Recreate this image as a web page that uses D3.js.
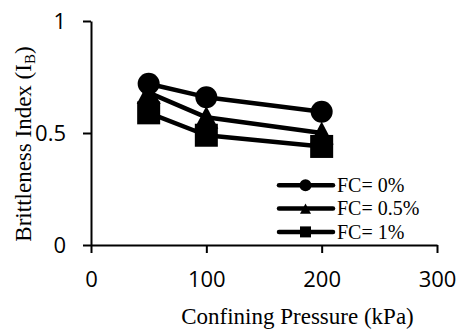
<!DOCTYPE html>
<html>
<head>
<meta charset="utf-8">
<script src="https://cdn.jsdelivr.net/npm/d3@7"></script>
<style>
  html, body { margin: 0; padding: 0; background: #fff; }
  svg { display: block; }
</style>
</head>
<body>
<svg id="chart" width="459" height="329"></svg>
<script>
// Confining pressure (kPa) at which each test was run
const pressures = [50, 100, 200];
// Brittleness index for each fibre content
const seriesNames = ["FC= 0%", "FC= 0.5%", "FC= 1%"];
const seriesMarkers = ["circle", "triangle", "square"];
const fc0 = [0.72, 0.66, 0.595];
const fc05 = [0.68, 0.57, 0.50];
const fc1 = [0.59, 0.49, 0.44];
const seriesValues = [fc0, fc05, fc1];

const xTicks = [0, 100, 200, 300];
const yTicks = [0, 0.5, 1];
const yTickLabels = ["0", "0.5", "1"];

const svg = d3.select("#chart");

const x = d3.scaleLinear().domain([0, 300]).range([91, 437]);
const y = d3.scaleLinear().domain([0, 1]).range([245, 21]);

const sansFont = "'Open Sans', 'Liberation Sans', sans-serif";
const serifFont = "'Liberation Serif', 'Times New Roman', serif";

// X axis
const xAxis = svg.append("g")
  .attr("transform", `translate(0,${y(0)})`)
  .call(d3.axisBottom(x).tickValues(xTicks).tickSize(8).tickPadding(18).tickSizeOuter(0));
// Y axis
const yAxis = svg.append("g")
  .attr("transform", `translate(${x(0)},0)`)
  .call(d3.axisLeft(y).tickValues(yTicks).tickFormat((d, i) => yTickLabels[i])
        .tickSize(8).tickPadding(17).tickSizeOuter(0));

[xAxis, yAxis].forEach(g => {
  g.select(".domain").attr("stroke", "#000").attr("stroke-width", 2);
  g.selectAll(".tick line").attr("stroke", "#000").attr("stroke-width", 2);
  g.selectAll(".tick text")
    .attr("fill", "#000")
    .style("font-family", sansFont)
    .style("font-size", "22px");
});
yAxis.selectAll(".tick text").attr("dy", "0.36em");

// Marker shapes
function drawMarker(g, type, cx, cy, s) {
  if (type === "circle") {
    g.append("circle").attr("cx", cx).attr("cy", cy).attr("r", s / 2).attr("fill", "#000");
  } else if (type === "square") {
    g.append("rect").attr("x", cx - s / 2).attr("y", cy - s / 2)
      .attr("width", s).attr("height", s).attr("fill", "#000");
  } else {
    const h = s * 0.95;
    g.append("path")
      .attr("d", `M${cx},${cy - h / 2}L${cx + s / 2},${cy + h / 2}L${cx - s / 2},${cy + h / 2}Z`)
      .attr("fill", "#000");
  }
}

// Lines first, then markers on top
const line = d3.line().x((d, i) => x(pressures[i])).y(d => y(d));
const plot = svg.append("g");
seriesValues.forEach(vals => {
  plot.append("path")
    .attr("d", line(vals))
    .attr("fill", "none")
    .attr("stroke", "#000")
    .attr("stroke-width", 4.5)
    .attr("stroke-linejoin", "round");
});
const markerSizes = { circle: 22, triangle: 24, square: 23 };
// draw later series underneath earlier ones
[1, 2, 0].forEach(si => {
  seriesValues[si].forEach((v, i) => {
    drawMarker(plot, seriesMarkers[si], x(pressures[i]), y(v), markerSizes[seriesMarkers[si]]);
  });
});

// Legend
const legend = svg.append("g");
const legendRows = [185.3, 208.6, 231.9];
const legendMarkerSizes = { circle: 12, triangle: 11, square: 11 };
seriesNames.forEach((name, i) => {
  const ly = legendRows[i];
  legend.append("line")
    .attr("x1", 279).attr("x2", 333).attr("y1", ly).attr("y2", ly)
    .attr("stroke", "#000").attr("stroke-width", 4.5).attr("stroke-linecap", "round");
  drawMarker(legend, seriesMarkers[i], 305.5, ly, legendMarkerSizes[seriesMarkers[i]]);
  legend.append("text")
    .attr("x", 337).attr("y", ly + 6.7)
    .style("font-family", serifFont).style("font-size", "20px")
    .attr("fill", "#000")
    .text(name);
});

// Axis titles
svg.append("text")
  .attr("x", 297.5).attr("y", 324)
  .attr("text-anchor", "middle")
  .style("font-family", serifFont).style("font-size", "23px")
  .attr("fill", "#000")
  .text("Confining Pressure (kPa)");

const yTitle = svg.append("text")
  .attr("transform", "translate(31,144) rotate(-90)")
  .attr("text-anchor", "middle")
  .style("font-family", serifFont).style("font-size", "23px")
  .attr("fill", "#000");
yTitle.append("tspan").text("Brittleness Index (I");
yTitle.append("tspan").attr("dy", 4).style("font-size", "15px").text("B");
yTitle.append("tspan").attr("dy", -4).text(")");
</script>
</body>
</html>
